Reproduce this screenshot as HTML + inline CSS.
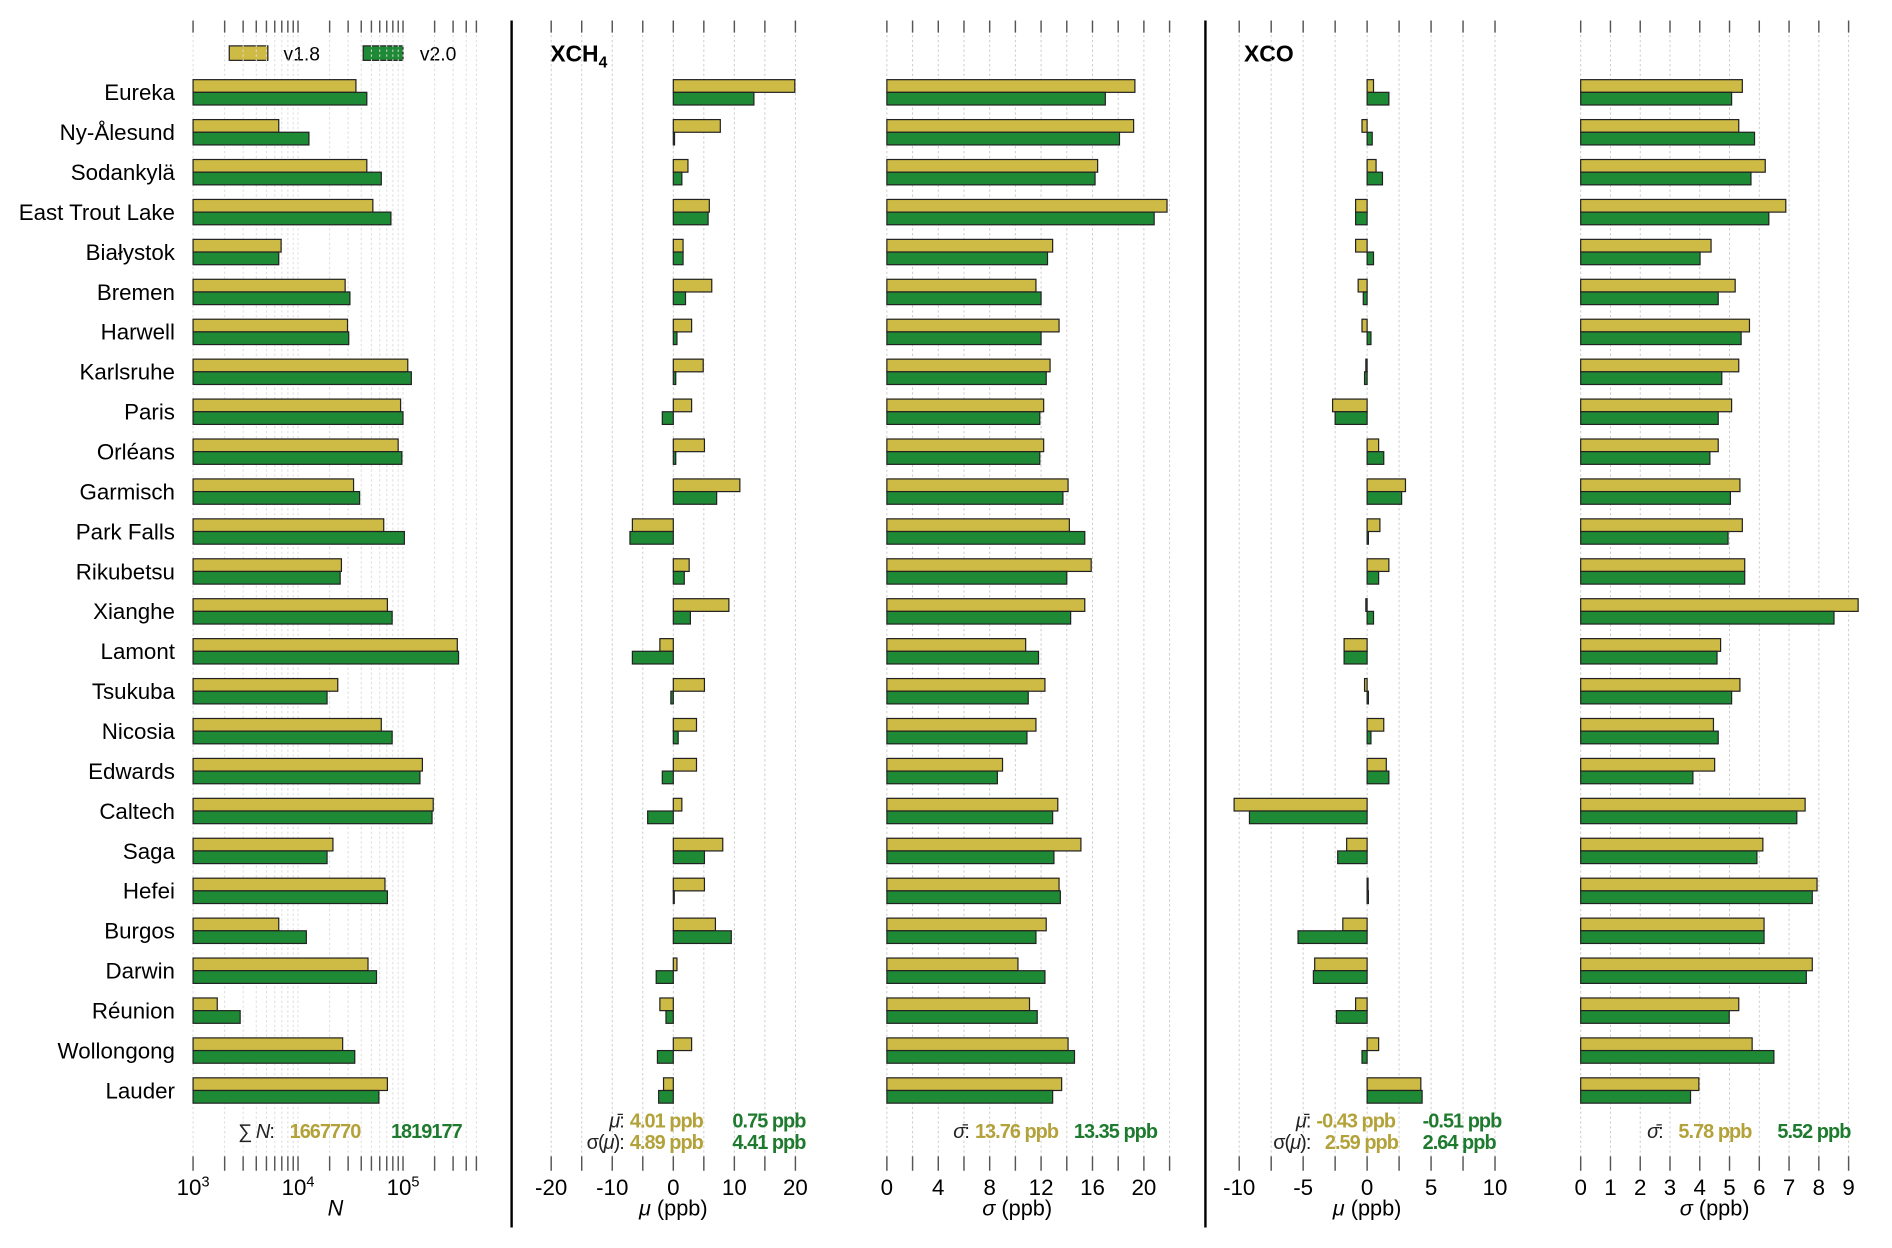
<!DOCTYPE html>
<html><head><meta charset="utf-8"><style>
html,body{margin:0;padding:0;background:#fff}
svg{display:block;font-family:"Liberation Sans",sans-serif}
</style></head><body>
<svg id="chart" width="1892" height="1248" viewBox="0 0 1568 1034" preserveAspectRatio="none" xmlns="http://www.w3.org/2000/svg">
<rect x="0" y="0" width="1568" height="1034" fill="#fff"/>
<line x1="424" y1="17" x2="424" y2="1017" stroke="#000" stroke-width="2"/>
<line x1="999" y1="17" x2="999" y2="1017" stroke="#000" stroke-width="2"/>
<g>
<rect x="190" y="38" width="32" height="12" fill="#CDBB45" stroke="#222" stroke-width="1"/>
<text x="235" y="50" font-size="16">v1.8</text>
<rect x="301" y="38" width="33" height="12" fill="#1F8A36" stroke="#222" stroke-width="1"/>
<text x="348" y="50" font-size="16">v2.0</text>
</g>
<text x="456" y="51" font-size="19" font-weight="bold">XCH<tspan font-size="13" dy="5">4</tspan></text>
<text x="1031" y="51" font-size="19" font-weight="bold">XCO</text>
<g id="g"></g>
</svg>
<script>
const stations = ["Eureka","Ny-Ålesund","Sodankylä","East Trout Lake","Białystok","Bremen","Harwell","Karlsruhe","Paris","Orléans","Garmisch","Park Falls","Rikubetsu","Xianghe","Lamont","Tsukuba","Nicosia","Edwards","Caltech","Saga","Hefei","Burgos","Darwin","Réunion","Wollongong","Lauder"];
const nV18 = [35600,6550,45200,51600,6900,28100,29600,111000,94800,89900,33800,65500,25900,71000,329000,23900,62100,153000,194000,21500,67300,6550,46400,1700,26600,71000];
const nV20 = [45200,12700,62100,76700,6550,31200,30400,120000,100000,97500,38600,103000,25200,78800,338000,18900,78800,145000,189000,18900,71000,12000,55900,2810,34700,58900];
const ch4MuV18 = [19.9,7.7,2.4,5.9,1.6,6.3,3.0,4.9,3.0,5.1,10.9,-6.7,2.6,9.1,-2.2,5.1,3.8,3.8,1.4,8.1,5.1,6.9,0.6,-2.2,3.0,-1.6];
const ch4MuV20 = [13.2,0.2,1.4,5.7,1.6,2.0,0.6,0.4,-1.8,0.4,7.1,-7.1,1.8,2.8,-6.7,-0.4,0.8,-1.8,-4.2,5.1,0.1,9.5,-2.8,-1.2,-2.6,-2.4];
const ch4SdV18 = [19.3,19.2,16.4,21.8,12.9,11.6,13.4,12.7,12.2,12.2,14.1,14.2,15.9,15.4,10.8,12.3,11.6,9.0,13.3,15.1,13.4,12.4,10.2,11.1,14.1,13.6];
const ch4SdV20 = [17.0,18.1,16.2,20.8,12.5,12.0,12.0,12.4,11.9,11.9,13.7,15.4,14.0,14.3,11.8,11.0,10.9,8.6,12.9,13.0,13.5,11.6,12.3,11.7,14.6,12.9];
const coMuV18 = [0.5,-0.4,0.7,-0.9,-0.9,-0.7,-0.4,-0.1,-2.7,0.9,3.0,1.0,1.7,-0.1,-1.8,-0.2,1.3,1.5,-10.4,-1.6,0.05,-1.9,-4.1,-0.9,0.9,4.2];
const coMuV20 = [1.7,0.4,1.2,-0.9,0.5,-0.3,0.3,-0.2,-2.5,1.3,2.7,0.1,0.9,0.5,-1.8,0.1,0.3,1.7,-9.2,-2.3,0.1,-5.4,-4.2,-2.4,-0.4,4.3];
const coSdV18 = [5.43,5.31,6.2,6.89,4.38,5.19,5.67,5.31,5.07,4.62,5.35,5.43,5.51,9.32,4.70,5.35,4.46,4.50,7.54,6.12,7.94,6.16,7.78,5.31,5.76,3.97];
const coSdV20 = [5.07,5.84,5.72,6.32,4.01,4.62,5.39,4.74,4.62,4.34,5.03,4.95,5.51,8.51,4.58,5.07,4.62,3.77,7.26,5.92,7.78,6.16,7.58,4.99,6.49,3.69];
const ch4MuTicks = [-20,-10,0,10,20];
const ch4SdTicks = [0,4,8,12,16,20];
const coMuTicks = [-10,-5,0,5,10];
const coSdTicks = [0,1,2,3,4,5,6,7,8,9];

const NS="http://www.w3.org/2000/svg";
const G=document.getElementById('g');
function mk(tag,attrs,parent){const e=document.createElementNS(NS,tag);for(const k in attrs)e.setAttribute(k,attrs[k]);(parent||G).appendChild(e);return e;}
const YELLOW="#CDBB45", GREEN="#1F8A36", TY="#B3A23A", TG="#1E7A2E";
const rowY=i=>77+i*33.08;
const logX=v=>160+87*(Math.log10(v)-3);
const lin=(z,s)=>v=>z+s*v;
const ch4MuX=lin(558,5.06), ch4SdX=lin(735,10.65), coMuX=lin(1133,10.6), coSdX=lin(1310,24.67);

stations.forEach((s,i)=>{
  const t=mk('text',{x:145,y:rowY(i)+6,'text-anchor':'end','font-size':18.5});
  
  
  t.textContent=s;
});

function grid(xs,minor){
  xs.forEach(x=>{
    const l=mk('line',{x1:x,y1:17,x2:x,y2:958,stroke:minor?'#ddd':'#ccc','stroke-width':0.8,'stroke-dasharray':'2,2'});
    
    
  });
}
function ticks(xs){
  xs.forEach(x=>{
    const a=mk('line',{x1:x,y1:17,x2:x,y2:27,stroke:'#555','stroke-width':1.2});
    
    
    const b=mk('line',{x1:x,y1:958,x2:x,y2:970,stroke:'#555','stroke-width':1.2});
    
    
  });
}
function tickLabels(vals,fx){
  vals.forEach(v=>{
    const t=mk('text',{x:fx(v),y:990,'text-anchor':'middle','font-size':18.5});
    
    
    t.textContent=String(v);
  });
}
function axisTitle(x,html){
  const t=mk('text',{x:x,y:1007,'text-anchor':'middle','font-size':18});
  
  
  t.innerHTML=html;
}
function bars(a,b,fx,name){
  const x0=fx===logX?160:fx(0);
  [[a,YELLOW,-11],[b,GREEN,-0.5]].forEach(([arr,col,off])=>{
    arr.forEach((v,i)=>{
      const x=fx(v);
      const r=mk('rect',{x:Math.min(x,x0),y:rowY(i)+off,width:Math.max(Math.abs(x-x0),0.8),height:10.5,fill:col,stroke:'#222','stroke-width':1});
      
      
    });
  });
}

const logMinor=[];
for(let d=3;d<=5;d++)for(let m=1;m<=9;m++){const v=m*Math.pow(10,d);if(v<=5e5)logMinor.push(logX(v));}
grid(logMinor,true); ticks(logMinor);
[3,4,5].forEach(e=>{
  const t=mk('text',{x:logX(Math.pow(10,e)),y:990,'text-anchor':'middle','font-size':18.5});
  
  
  t.innerHTML='10<tspan font-size="12" dy="-7">'+e+'</tspan>';
});
axisTitle(278,'<tspan font-style="italic">N</tspan>');
bars(nV18,nV20,logX,'n');

const p2=[];for(let v=-20;v<=20;v+=5)p2.push(ch4MuX(v));
grid(p2);ticks(p2);tickLabels(ch4MuTicks,ch4MuX);
axisTitle(558,'<tspan font-style="italic">μ</tspan> (ppb)');
bars(ch4MuV18,ch4MuV20,ch4MuX,'ch4-mu');
const p3=[];for(let v=0;v<=22;v+=2)p3.push(ch4SdX(v));
grid(p3);ticks(p3);tickLabels(ch4SdTicks,ch4SdX);
axisTitle(843,'<tspan font-style="italic">σ</tspan> (ppb)');
bars(ch4SdV18,ch4SdV20,ch4SdX,'ch4-sigma');
const p4=[];for(let v=-10;v<=10;v+=2.5)p4.push(coMuX(v));
grid(p4);ticks(p4);tickLabels(coMuTicks,coMuX);
axisTitle(1133,'<tspan font-style="italic">μ</tspan> (ppb)');
bars(coMuV18,coMuV20,coMuX,'co-mu');
const p5=[];for(let v=0;v<=9;v++)p5.push(coSdX(v));
grid(p5);ticks(p5);tickLabels(coSdTicks,coSdX);
axisTitle(1421,'<tspan font-style="italic">σ</tspan> (ppb)');
bars(coSdV18,coSdV20,coSdX,'co-sigma');

function st(x,y,txt,col,anchor,name,bold){
  const t=mk('text',{x:x,y:y,'text-anchor':anchor||'start','font-size':16.5,fill:col||'#222','letter-spacing':'-0.8','font-weight':bold===false?'normal':'bold'});
  
  
  t.innerHTML=txt;
}
st(227,943,'∑ <tspan font-style="italic">N</tspan>:','#222','end','sum-n-label',false);
st(240,943,'1667770',TY,'start','sum-n-v18');
st(324,943,'1819177',TG,'start','sum-n-v20');
st(517,934,'<tspan font-style="italic">μ̄</tspan>:','#222','end','ch4-mean-label',false);
st(522,934,'4.01 ppb',TY); st(607,934,'0.75 ppb',TG);
st(517,952,'σ(<tspan font-style="italic">μ</tspan>):','#222','end','ch4-sd-label',false);
st(522,952,'4.89 ppb',TY); st(607,952,'4.41 ppb',TG);
st(803,943,'<tspan font-style="italic">σ̄</tspan>:','#222','end','ch4-sigma-mean-label',false);
st(808,943,'13.76 ppb',TY); st(890,943,'13.35 ppb',TG);
st(1086,934,'<tspan font-style="italic">μ̄</tspan>:','#222','end','co-mean-label',false);
st(1091,934,'-0.43 ppb',TY); st(1179,934,'-0.51 ppb',TG);
st(1086,952,'σ(<tspan font-style="italic">μ</tspan>):','#222','end','co-sd-label',false);
st(1098,952,'2.59 ppb',TY); st(1179,952,'2.64 ppb',TG);
st(1378,943,'<tspan font-style="italic">σ̄</tspan>:','#222','end','co-sigma-mean-label',false);
st(1391,943,'5.78 ppb',TY); st(1473,943,'5.52 ppb',TG);
</script>
</body></html>
